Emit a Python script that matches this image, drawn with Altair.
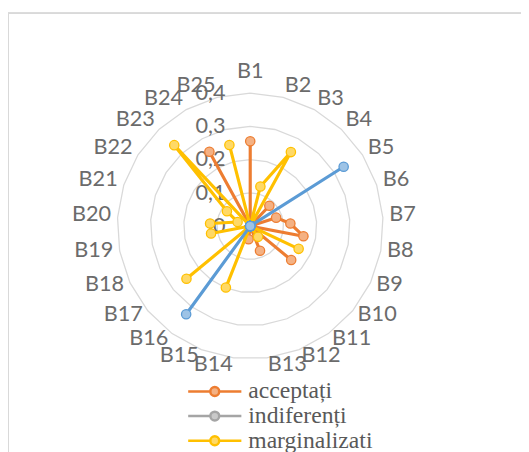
import altair as alt
import pandas as pd

# ---------------- data ----------------
categories = ["B1", "B2", "B3", "B4", "B5", "B6", "B7", "B8", "B9", "B10",
              "B11", "B12", "B13", "B14", "B15", "B16", "B17", "B18", "B19", "B20",
              "B21", "B22", "B23", "B24", "B25"]
series_names = ["acceptați", "indiferenți", "marginalizati", "respinși"]
acceptati = [0.255, 0, 0, 0.084, 0, 0.082, 0.121, 0.163, 0, 0.16,
             0, 0.08, 0, 0.04, 0, 0, 0, 0, 0, 0,
             0, 0, 0, 0.255, 0]
indiferenti = [0, 0, 0, 0, 0, 0, 0, 0, 0, 0,
               0, 0, 0, 0, 0, 0, 0, 0, 0, 0,
               0, 0, 0, 0, 0]
marginalizati = [0, 0.123, 0.254, 0, 0, 0, 0, 0, 0.161, 0,
                 0.04, 0, 0, 0, 0.199, 0, 0.249, 0, 0.12, 0.121,
                 0.04, 0.083, 0.334, 0, 0.252]
respinsi = [0, 0, 0, 0, 0.333, 0, 0, 0, 0, 0,
            0, 0, 0, 0, 0, 0.328, 0, 0, 0, 0,
            0, 0, 0, 0, 0]
ring_levels = [0.1, 0.2, 0.3, 0.4]
tick_values = [0, 0.1, 0.2, 0.3, 0.4]
tick_labels = ["0", "0,1", "0,2", "0,3", "0,4"]
stroke_colors = ["#ED7D31", "#A5A5A5", "#FFC000", "#5B9BD5"]
fill_colors = ["#F4B183", "#C9C9C9", "#FFD966", "#9DC3E6"]

# ---------------- layout ----------------
W, H = 519, 442          # plot area (page origin at 10,10)
CX, CY = 244, 216        # centre of radar in plot px
K = 337.5                # px per data unit
N = len(categories)
RX, RY, SHIFT, TOPBUMP = 141.5, 144.5, 3.0, 10.0

xdom = [-CX / K, (W - CX) / K]
ydom = [-(H - CY) / K, CY / K]
xs = alt.Scale(domain=xdom, nice=False, zero=False)
ys = alt.Scale(domain=ydom, nice=False, zero=False)

values_by_series = [acceptati, indiferenti, marginalizati, respinsi]
rows = []
for name, vals in zip(series_names, values_by_series):
    for i in range(N + 1):
        rows.append({"series": name, "idx": i, "value": vals[i % N]})
sdf = pd.DataFrame(rows)

ring_rows = []
for lv in ring_levels:
    for i in range(N + 1):
        ring_rows.append({"level": lv, "idx": i})
rdf = pd.DataFrame(ring_rows)

cdf = pd.DataFrame({"cat": categories, "idx": list(range(N))})
tdf = pd.DataFrame({"v": tick_values, "t": tick_labels})

ANG = f"2*PI*datum.idx/{N}"

def polar(ch, field):
    return (ch.transform_calculate(px=f"datum.{field}*sin({ANG})")
              .transform_calculate(py=f"datum.{field}*cos({ANG})"))

X = alt.X("px:Q", scale=xs, axis=None)
Y = alt.Y("py:Q", scale=ys, axis=None)

FONT = "Lato"
TXT = "#6b6b6b"
FS = 22

# rings
rings = polar(alt.Chart(rdf), "level").mark_line(
    color="#D9D9D9", strokeWidth=1.3).encode(
    x=X, y=Y, detail="level:N", order="idx:Q")

# border (top / left)
border_top = alt.Chart(cdf).mark_rule(color="#D9D9D9", strokeWidth=1.5).encode(
    x=alt.value(-2), x2=alt.value(W + 10), y=alt.value(0))
border_left = alt.Chart(cdf).mark_rule(color="#D9D9D9", strokeWidth=1.5).encode(
    x=alt.value(-2), y=alt.value(0), y2=alt.value(H + 10))

# category labels
labbase = (alt.Chart(cdf)
           .transform_calculate(s=f"sin({ANG})")
           .transform_calculate(c=f"cos({ANG})")
           .transform_calculate(lx=f"{RX}*datum.s/{K}")
           .transform_calculate(ly=f"({RY}*datum.c + {SHIFT} + (abs(datum.s) < 0.01 ? {TOPBUMP}*datum.c : 0))/{K}"))
LX = alt.X("lx:Q", scale=xs, axis=None)
LY = alt.Y("ly:Q", scale=ys, axis=None)
lab_kw = dict(font=FONT, fontSize=FS, color=TXT, baseline="middle")
lab_left = labbase.transform_filter("datum.s > 0.01").mark_text(align="left", **lab_kw).encode(
    x=LX, y=LY, text="cat:N")
lab_right = labbase.transform_filter("datum.s < -0.01").mark_text(align="right", **lab_kw).encode(
    x=LX, y=LY, text="cat:N")
lab_center = labbase.transform_filter("abs(datum.s) <= 0.01").mark_text(align="center", **lab_kw).encode(
    x=LX, y=LY, text="cat:N")

# value labels
val_labels = alt.Chart(tdf).mark_text(align="right", baseline="middle", dx=-25,
                                      font=FONT, fontSize=FS, color=TXT).encode(
    x=alt.datum(0, scale=xs, axis=None), y=alt.Y("v:Q", scale=ys, axis=None), text="t:N")

# series — legend symbol: a 54px line with a 9px circle, drawn on a 20px unit box
SYM = 20.0
half_line = 27.0 / (SYM / 2)
rc = 4.5 / (SYM / 2)
sym = (f"M-{half_line},0H-{rc}A{rc},{rc},0,1,1,{rc},0H{half_line}"
       f"M{rc},0A{rc},{rc},0,1,1,-{rc},0")
stroke_scale = alt.Scale(domain=series_names, range=stroke_colors)
fill_scale = alt.Scale(domain=series_names, range=fill_colors)
leg = alt.Legend(title=None, orient="none", legendX=196, legendY=372,
                 values=series_names[:3], symbolType=sym, symbolSize=SYM * SYM,
                 symbolStrokeWidth=2.5, labelFont="Liberation Serif",
                 labelFontSize=24, labelColor="#595959", labelOffset=22,
                 rowPadding=1, padding=0)

layers = [rings, border_top, border_left, lab_left, lab_right, lab_center, val_labels]
for name in series_names:
    base = polar(alt.Chart(sdf).transform_filter(alt.datum.series == name), "value")
    line = base.mark_line(strokeWidth=3.2, strokeJoin="round").encode(
        x=X, y=Y, order="idx:Q",
        stroke=alt.Stroke("series:N", scale=stroke_scale, legend=leg))
    pts = base.transform_filter(f"datum.idx < {N}").mark_circle(
        size=90, strokeWidth=1.3, opacity=1).encode(
        x=X, y=Y,
        stroke=alt.Stroke("series:N", scale=stroke_scale, legend=leg),
        fill=alt.Fill("series:N", scale=fill_scale, legend=leg))
    layers += [line, pts]

chart = alt.layer(*layers).properties(
    width=W, height=H,
    autosize=alt.AutoSizeParams(type="none"),
    padding={"left": 2, "top": 2, "right": 0, "bottom": 0},
).configure_view(stroke=None)

chart.save("out.html", embed_options={"renderer": "svg", "actions": False})
